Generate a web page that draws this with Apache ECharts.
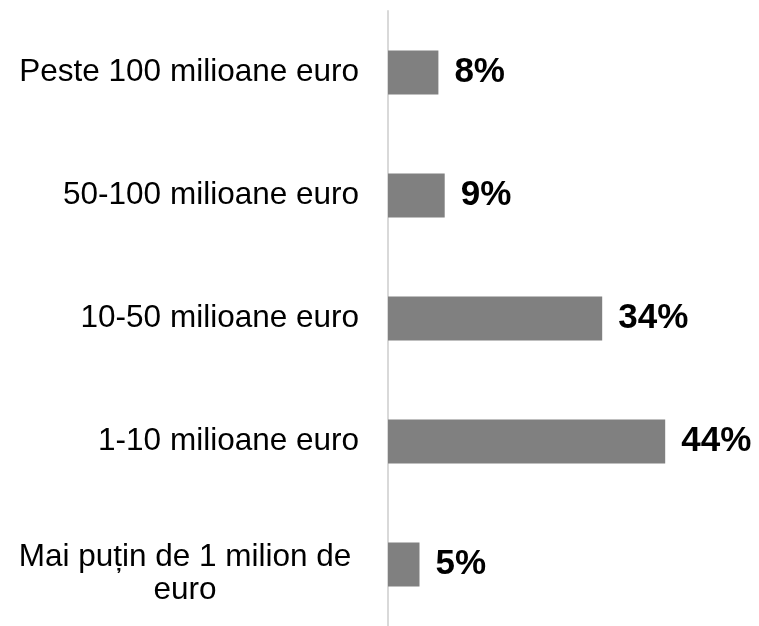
<!DOCTYPE html>
<html>
<head>
<meta charset="utf-8">
<script src="https://cdn.jsdelivr.net/npm/echarts@6/dist/echarts.min.js"></script>
<style>
  html,body{margin:0;padding:0;background:#fff;}
  #chart{width:759px;height:626px;}
</style>
</head>
<body>
<div id="chart"></div>
<script>
// categories, top to bottom
var categories = [
  'Peste 100 milioane euro',
  '50-100 milioane euro',
  '10-50 milioane euro',
  '1-10 milioane euro',
  'Mai pu\u021bin de 1 milion de\neuro'
]
var values = [8, 9, 34, 44, 5]

var font = '"Liberation Sans", Arial, sans-serif'
var myChart = echarts.init(document.getElementById('chart'))
var option = {
  animation: false,
  textStyle: { fontFamily: font },
  grid: {
    left: 388,
    right: 56,
    top: 11,
    bottom: -5
  },
  xAxis: {
    type: 'value',
    min: 0,
    max: 50,
    show: false
  },
  yAxis: {
    type: 'category',
    inverse: true,
    data: categories,
    axisTick: { show: false },
    axisLine: { lineStyle: { color: '#d9d9d9', width: 2 } },
    axisLabel: {
      margin: 29,
      fontSize: 31.5,
      color: '#000',
      fontFamily: font,
      formatter: function (v) {
        // wrapped label is centred on itself and sits a bit lower
        if (v.indexOf('\n') >= 0) {
          var parts = v.split('\n')
          return '{sp| }\n{c|' + parts[0] + '}\n{c|' + parts[1] + '}'
        }
        return v
      },
      rich: {
        sp: { fontSize: 4, lineHeight: 18 },
        c: {
          width: 348,
          align: 'center',
          fontSize: 31.5,
          color: '#000',
          lineHeight: 33,
          fontFamily: font
        }
      }
    }
  },
  series: [{
    type: 'bar',
    data: values,
    barWidth: 44,
    itemStyle: { color: '#808080' },
    label: {
      show: true,
      position: 'right',
      distance: 16,
      formatter: '{c}%',
      fontSize: 35,
      fontWeight: 'bold',
      color: '#000',
      fontFamily: font
    }
  }]
}
myChart.setOption(option)
</script>
</body>
</html>
